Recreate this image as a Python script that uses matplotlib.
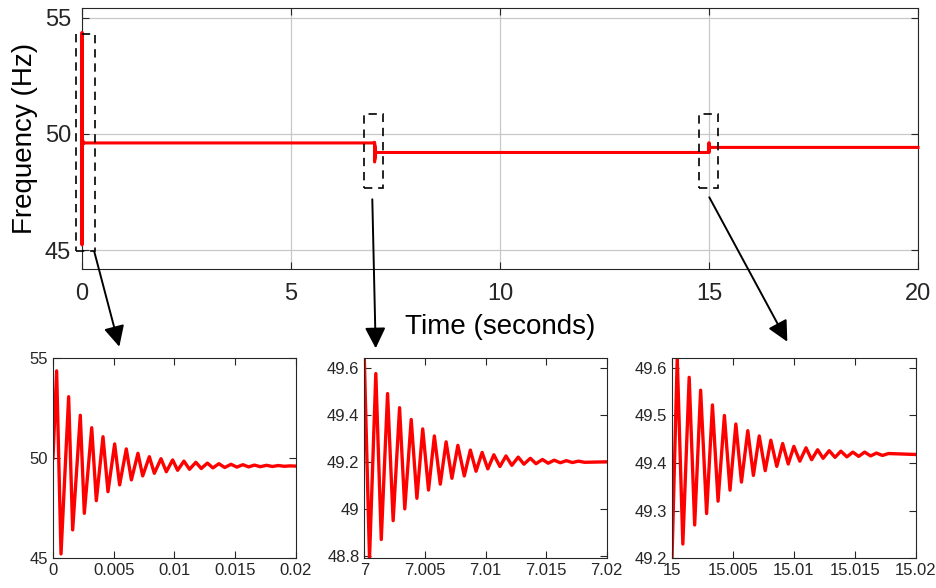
import matplotlib
matplotlib.use('Agg')
import matplotlib.pyplot as plt
from matplotlib.patches import Rectangle, FancyArrowPatch
from matplotlib.ticker import FuncFormatter

plt.rcParams['font.family'] = ['Liberation Sans', 'DejaVu Sans']

# transient after start-up (t = 0 .. 0.02 s), extrema
t_start = [0, 0.0003, 0.00066, 0.00129, 0.00162, 0.00225, 0.00258, 0.00319, 0.00357,
           0.00412, 0.00453, 0.00508, 0.00549, 0.00604, 0.00646, 0.0070, 0.00739,
           0.00794, 0.00835, 0.0089, 0.00934, 0.00986, 0.01027, 0.01079, 0.01125,
           0.01177, 0.01222, 0.01272, 0.01318, 0.01367, 0.01415, 0.01467, 0.01515,
           0.01565, 0.01612, 0.0166, 0.01708, 0.0176, 0.01808, 0.01856, 0.01905,
           0.0195, 0.02]
f_start = [50.0, 54.37, 45.22, 53.08, 46.42, 52.15, 47.25, 51.53, 47.88, 51.08, 48.33,
           50.72, 48.67, 50.47, 48.92, 50.25, 49.12, 50.08, 49.25, 49.98, 49.33, 49.92,
           49.40, 49.86, 49.45, 49.80, 49.49, 49.76, 49.52, 49.73, 49.54, 49.70, 49.56,
           49.68, 49.57, 49.66, 49.58, 49.65, 49.59, 49.64, 49.60, 49.62, 49.61]

# transient at t = 7 s (load step down)
t_step1 = [7.0, 7.00043, 7.00095, 7.0014, 7.00192, 7.00238, 7.00291, 7.00334, 7.00387,
           7.00434, 7.00482, 7.0053, 7.00578, 7.00627, 7.00675, 7.00723, 7.00772,
           7.00825, 7.00875, 7.00922, 7.00972, 7.01019, 7.01069, 7.01119, 7.01169,
           7.01217, 7.0127, 7.01317, 7.0137, 7.01417, 7.0147, 7.01517, 7.01567,
           7.01617, 7.01667, 7.01717, 7.01767, 7.01817, 7.02]
f_step1 = [49.64, 48.79, 49.575, 48.87, 49.49, 48.95, 49.43, 49.0, 49.38, 49.045, 49.34,
           49.08, 49.31, 49.105, 49.285, 49.13, 49.27, 49.14, 49.25, 49.16, 49.24,
           49.17, 49.23, 49.18, 49.225, 49.185, 49.22, 49.19, 49.215, 49.192, 49.21,
           49.194, 49.207, 49.196, 49.205, 49.197, 49.203, 49.198, 49.2]

# transient at t = 15 s (load step up)
t_step2 = [15.0, 15.00043, 15.00089, 15.00141, 15.00186, 15.00235, 15.00284, 15.00332,
           15.00378, 15.0043, 15.00476, 15.00524, 15.0057, 15.00622, 15.00668, 15.00716,
           15.00765, 15.00811, 15.0086, 15.00908, 15.00954, 15.01, 15.01049, 15.011,
           15.01146, 15.01195, 15.0124, 15.0129, 15.01338, 15.01386, 15.01435, 15.01484,
           15.01532, 15.01581, 15.0163, 15.01678, 15.01727, 15.01776, 15.02]
f_step2 = [49.2, 49.62, 49.23, 49.58, 49.27, 49.553, 49.294, 49.522, 49.32, 49.50, 49.343,
           49.482, 49.36, 49.468, 49.374, 49.457, 49.384, 49.448, 49.393, 49.441, 49.398,
           49.435, 49.404, 49.432, 49.407, 49.428, 49.41, 49.426, 49.412, 49.425, 49.413,
           49.423, 49.414, 49.423, 49.415, 49.421, 49.416, 49.42, 49.418]

# steady levels between events
t_hold = [6.999, 20.0]
f_hold = [49.61, 49.418]

t_all = t_start + [t_hold[0]] + t_step1 + t_step2 + [t_hold[1]]
f_all = f_start + [f_hold[0]] + f_step1 + f_step2 + [f_hold[1]]

W, H = 937, 588
fig = plt.figure(figsize=(W / 100, H / 100), dpi=100)


def px_axes(l, t, r, b):
    return fig.add_axes([l / W, 1 - b / H, (r - l) / W, (b - t) / H])


def style(ax, size, pad):
    ax.tick_params(direction='in', length=5, width=0.8, top=True, right=True,
                   labelsize=size, pad=pad, colors='#262626')
    for s in ax.spines.values():
        s.set_color('#262626')
        s.set_linewidth(0.8)


fmt = FuncFormatter(lambda v, p: '{:g}'.format(round(v, 6)))

ax = px_axes(82, 8, 918, 269.3)
ax.plot(t_all, f_all, color='#ff0000', lw=2.2, clip_on=False, zorder=4)
ax.set_xlim(0, 20)
ax.set_ylim(44.17, 55.42)
ax.set_xticks([0, 5, 10, 15, 20])
ax.set_yticks([45, 50, 55])
ax.grid(True, color='#c8c8c8', lw=0.9)
style(ax, 17, 8)
ax.tick_params(axis='x', pad=10)
ax.set_xlabel('Time (seconds)', fontsize=20)
ax.xaxis.set_label_coords(0.5, -0.222)
ax.xaxis.label.set_va('center')
ax.set_ylabel('Frequency (Hz)', fontsize=20)
ax.yaxis.set_label_coords(-0.068, 0.5)
ax.yaxis.label.set_va('center')

# dashed zoom boxes
for x0, x1 in [(-0.14, 0.31), (6.75, 7.21), (14.76, 15.22)]:
    y0, y1 = (44.97, 54.31) if x0 < 0 else (47.68, 50.86)
    ax.add_patch(Rectangle((x0, y0), x1 - x0, y1 - y0, fill=False, ec='black',
                           lw=1.2, ls=(0, (5, 3.5)), clip_on=False, zorder=5))

# arrows from boxes to zoom panels (figure pixels)
for (x0, y0), (x1, y1) in [((94.3, 251.7), (119.3, 346.7)),
                           ((372.3, 199.3), (375.7, 348.3)),
                           ((709.3, 197.3), (787.3, 341.7))]:
    fig.add_artist(FancyArrowPatch(
        (x0, H - y0), (x1, H - y1), transform=None,
        arrowstyle='-|>,head_length=0.9,head_width=0.45',
        mutation_scale=14, color='black', lw=1.4, shrinkA=0, shrinkB=0))

panels = [
    ((53, 358.3, 295.7, 558.3), t_start, f_start, (0, 0.02), (45, 55),
     [0, 0.005, 0.01, 0.015, 0.02], [45, 50, 55]),
    ((364.3, 358.3, 606.7, 558.3), t_step1, f_step1, (7, 7.02), (48.79, 49.64),
     [7, 7.005, 7.01, 7.015, 7.02], [48.8, 49, 49.2, 49.4, 49.6]),
    ((672, 358.3, 915.7, 558.3), t_step2, f_step2, (15, 15.02), (49.2, 49.62),
     [15, 15.005, 15.01, 15.015, 15.02], [49.2, 49.3, 49.4, 49.5, 49.6]),
]
for box, tx, fx, xl, yl, xt, yt in panels:
    a = px_axes(*box)
    a.plot(tx, fx, color='#ff0000', lw=2.4, solid_joinstyle='round')
    a.set_xlim(*xl)
    a.set_ylim(*yl)
    a.set_xticks(xt)
    a.set_yticks(yt)
    a.xaxis.set_major_formatter(fmt)
    a.yaxis.set_major_formatter(fmt)
    style(a, 12, 3.5)

fig.savefig('out.png', dpi=100)
